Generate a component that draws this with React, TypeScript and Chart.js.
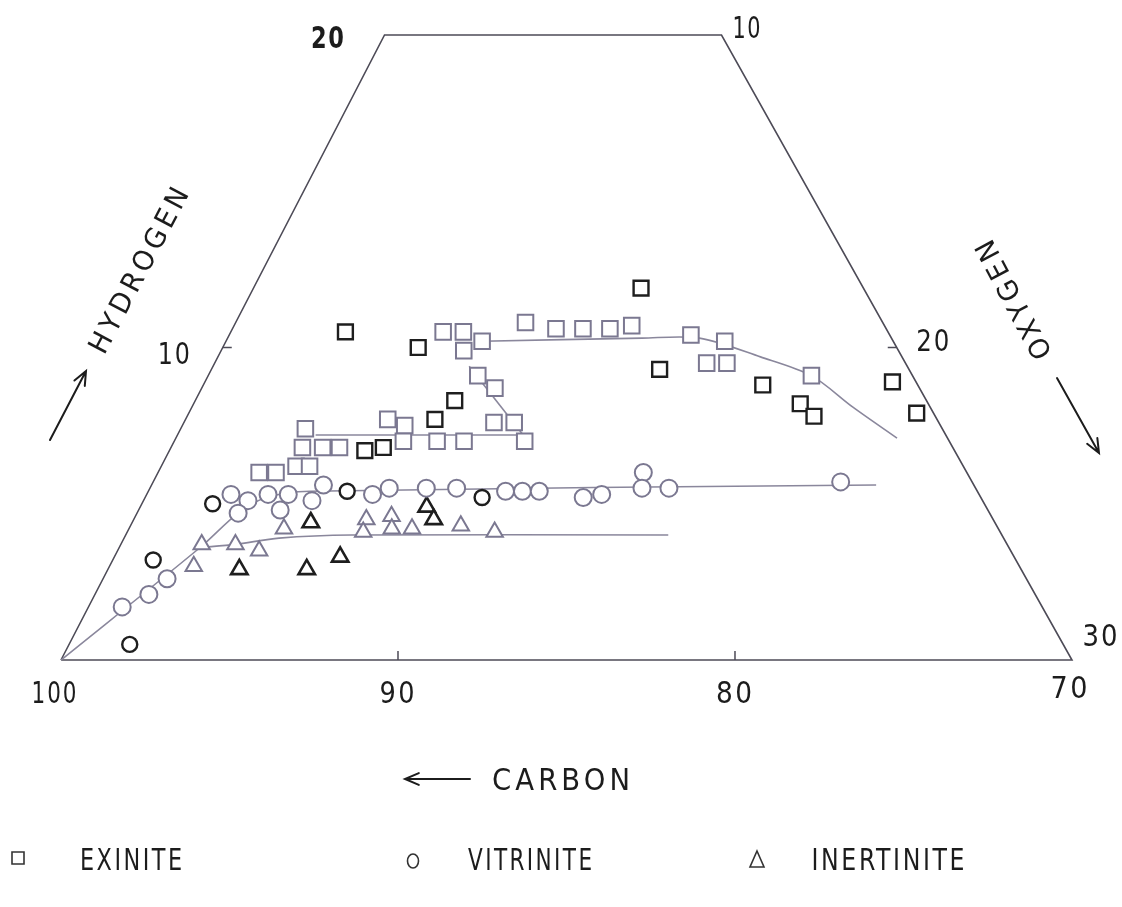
import React, { useEffect, useRef } from 'react';
import { Chart, registerables } from 'chart.js';

Chart.register(...registerables);

type Pair = [number, number]; // [carbon %, hydrogen %]

// Ternary (C–H–O) diagram drawn on a sheared Cartesian frame: plotted x = C + SHEAR * H
const SHEAR = 0.52;

const carbonTicks = [100, 90, 80, 70];
const hydrogenTicks = [10, 20];
const oxygenTicks = [10, 20, 30];

const frameOutline: Pair[] = [[100, 0], [80, 20], [70, 20], [70, 0], [100, 0]];

const exiniteTrend: Pair[] = [
  [88.9, 7.4], [89.3, 6.8], [88.7, 6.8], [88.2, 6.8], [86.3, 7.7], [85.9, 7.5], [86.2, 7.0],
  [85.2, 7.0], [84.4, 7.0], [91.0, 6.0], [90.5, 6.0], [89.8, 6.2], [89.4, 6.2], [83.2, 10.5],
  [82.6, 10.5], [82.9, 9.9], [82.2, 10.2], [82.9, 9.1], [82.6, 8.7], [83.2, 7.6], [82.6, 7.6],
  [82.6, 7.0], [80.6, 10.8], [79.8, 10.6], [79.0, 10.6], [78.2, 10.6], [77.5, 10.7], [75.9, 10.4],
  [75.0, 10.2], [75.9, 9.5], [75.3, 9.5], [73.0, 9.1],
];
const exiniteOutliers: Pair[] = [
  [86.1, 10.5], [84.2, 10.0], [84.0, 8.3], [84.9, 7.7], [87.5, 6.7], [86.9, 6.8], [76.6, 11.9],
  [77.4, 9.3], [74.6, 8.8], [73.8, 8.2], [73.6, 7.8], [70.7, 8.9], [70.5, 7.9],
];

const vitriniteTrend: Pair[] = [
  [97.3, 1.7], [96.3, 2.1], [95.5, 2.6], [92.2, 5.3], [91.8, 5.1], [92.3, 4.7], [91.1, 5.3],
  [90.5, 5.3], [91.0, 4.8], [89.9, 5.1], [89.3, 5.6], [88.0, 5.3], [87.4, 5.5], [86.3, 5.5],
  [85.4, 5.5], [84.0, 5.4], [83.5, 5.4], [83.0, 5.4], [81.8, 5.2], [81.2, 5.3], [79.6, 6.0],
  [79.9, 5.5], [79.1, 5.5], [73.9, 5.7],
];
const vitriniteOutliers: Pair[] = [[97.7, 0.5], [95.6, 3.2], [92.9, 5.0], [88.7, 5.4], [84.8, 5.2]];

const inertiniteTrend: Pair[] = [
  [94.5, 3.0], [93.9, 3.7], [92.9, 3.7], [92.3, 3.5], [91.2, 4.2], [88.6, 4.5], [88.9, 4.1],
  [87.8, 4.6], [88.0, 4.2], [87.4, 4.2], [85.9, 4.3], [85.0, 4.1],
];
const inertiniteOutliers: Pair[] = [[93.2, 2.9], [90.3, 4.4], [91.2, 2.9], [90.0, 3.3], [86.6, 4.9], [86.6, 4.5]];

const exiniteUpperCurve: Pair[] = [[82.2, 10.2], [77.4, 10.3], [75.7, 10.3], [74.2, 9.7], [73.0, 9.1], [72.3, 8.1], [71.5, 7.1]];
const exiniteLowerLine: Pair[] = [[88.7, 7.2], [82.6, 7.2]];
const exiniteCrossLine: Pair[] = [[83.0, 9.4], [82.5, 7.0]];
const vitriniteCurve: Pair[] = [[100, 0], [94.0, 3.6], [92.3, 4.7], [91.2, 5.2], [89.8, 5.4], [72.9, 5.6]];
const inertiniteCurve: Pair[] = [[94.0, 3.6], [92.9, 3.7], [91.5, 3.9], [89.3, 4.0], [79.9, 4.0]];

const legendLabels = ['EXINITE', 'VITRINITE', 'INERTINITE'];

// ---- styling / layout ----
const W = 1122;
const H = 907;
const X_MIN = 68.516;
const X_MAX = 101.81;
const Y_MIN = -7.904;
const Y_MAX = 21.12;
const FONT = "'Liberation Sans Narrow', 'DejaVu Sans Condensed', 'Liberation Sans', 'DejaVu Sans', sans-serif";
const MARK = '#7b7891';
const LINE = '#8a879c';
const DARK = '#1e1e1e';
const FRAME = '#4d4b57';
const TEXT = '#1c1c1c';

const toPts = (arr: Pair[]) => arr.map(([c, h]) => ({ x: c + SHEAR * h, y: h }));

function fitText(
  ctx: CanvasRenderingContext2D, text: string, cx: number, cy: number,
  size: number, width: number, angle = 0, spacing = 0, weight = '400',
) {
  ctx.save();
  ctx.translate(cx, cy);
  ctx.rotate(angle);
  ctx.font = `${weight} ${size}px ${FONT}`;
  (ctx as any).letterSpacing = `${spacing}px`;
  const w = ctx.measureText(text).width - spacing;
  const s = width / w;
  ctx.scale(s, 1);
  ctx.fillStyle = TEXT;
  ctx.textAlign = 'center';
  ctx.textBaseline = 'alphabetic';
  ctx.fillText(text, spacing / 2, size * 0.36);
  ctx.restore();
}

function arrow(ctx: CanvasRenderingContext2D, x0: number, y0: number, x1: number, y1: number) {
  const a = Math.atan2(y1 - y0, x1 - x0);
  const L = 15;
  const sp = 0.4;
  ctx.save();
  ctx.strokeStyle = TEXT;
  ctx.lineWidth = 2;
  ctx.lineCap = 'round';
  ctx.beginPath();
  ctx.moveTo(x0, y0);
  ctx.lineTo(x1, y1);
  ctx.moveTo(x1 - L * Math.cos(a - sp), y1 - L * Math.sin(a - sp));
  ctx.lineTo(x1, y1);
  ctx.lineTo(x1 - L * Math.cos(a + sp), y1 - L * Math.sin(a + sp));
  ctx.stroke();
  ctx.restore();
}

const carbonLabelOffset: Record<number, [number, number, number]> = {
  100: [-7, 32, 45], 90: [-1, 32, 35], 80: [-1, 32, 36], 70: [-3, 27, 37],
};
const hydrogenLabelOffset: Record<number, [number, number, number]> = {
  10: [-49, 6, 32], 20: [-57, 2, 33],
};
const oxygenLabelOffset: Record<number, [number, number, number]> = {
  10: [25, -8, 28], 20: [36, -7, 33], 30: [28, -25, 35],
};

const overlay = {
  id: 'overlay',
  afterDraw(chart: any) {
    const ctx: CanvasRenderingContext2D = chart.ctx;
    const xs = chart.scales.x;
    const ys = chart.scales.y;
    const px = (c: number, h: number) => xs.getPixelForValue(c + SHEAR * h);
    const py = (h: number) => ys.getPixelForValue(h);

    // tick marks
    ctx.save();
    ctx.strokeStyle = FRAME;
    ctx.lineWidth = 1.5;
    ctx.beginPath();
    carbonTicks.slice(1, -1).forEach((c) => {
      ctx.moveTo(px(c, 0), py(0));
      ctx.lineTo(px(c, 0), py(0) - 9);
    });
    ctx.moveTo(px(90, 10), py(10));
    ctx.lineTo(px(90, 10) + 9, py(10));
    ctx.moveTo(px(70, 10), py(10));
    ctx.lineTo(px(70, 10) - 9, py(10));
    ctx.stroke();
    ctx.restore();

    // tick labels
    carbonTicks.forEach((c) => {
      const [dx, dy, w] = carbonLabelOffset[c];
      fitText(ctx, String(c), px(c, 0) + dx, py(0) + dy, 30, w, 0, 2.5);
    });
    hydrogenTicks.forEach((h) => {
      const [dx, dy, w] = hydrogenLabelOffset[h];
      fitText(ctx, String(h), px(100 - h, h) + dx, py(h) + dy, 30, w, 0, 2, h === 20 ? '700' : '400');
    });
    oxygenTicks.forEach((o) => {
      const [dx, dy, w] = oxygenLabelOffset[o];
      const h = 30 - o;
      fitText(ctx, String(o), px(70, h) + dx, py(h) + dy, 30, w, 0, 2);
    });

    const ox = px(100, 0);
    const oy = py(0);

    // axis titles
    fitText(ctx, 'HYDROGEN', ox + 77, oy - 390, 28, 183, -62.2 * Math.PI / 180, 4);
    arrow(ctx, ox - 11, oy - 220, ox + 25, oy - 289);
    fitText(ctx, 'OXYGEN', ox + 952, oy - 360, 28, 131, -118 * Math.PI / 180, 4);
    arrow(ctx, ox + 996, oy - 282, ox + 1038, oy - 207);
    fitText(ctx, 'CARBON', ox + 500, oy + 119, 30, 138, 0, 4);
    arrow(ctx, ox + 409, oy + 119, ox + 344, oy + 119);

    // legend
    const ly = oy + 199;
    const markers = ['rect', 'circle', 'triangle'];
    const mx = [18, 413, 757];
    const tx = [131, 530, 888];
    const tw = [102, 124, 153];
    ctx.save();
    ctx.strokeStyle = '#333';
    ctx.lineWidth = 1.6;
    markers.forEach((m, i) => {
      ctx.beginPath();
      if (m === 'rect') ctx.rect(mx[i] - 6, ly - 7, 12, 12);
      else if (m === 'circle') ctx.ellipse(mx[i], ly + 2, 5.5, 7, 0, 0, Math.PI * 2);
      else {
        ctx.moveTo(mx[i], ly - 8);
        ctx.lineTo(mx[i] + 7, ly + 8);
        ctx.lineTo(mx[i] - 7, ly + 8);
        ctx.closePath();
      }
      ctx.stroke();
    });
    ctx.restore();
    legendLabels.forEach((t, i) => fitText(ctx, t, tx[i], ly, 30, tw[i], 0, 3));
  },
};

function lineDs(label: string, arr: Pair[], color: string, width: number, tension: number, order: number) {
  return {
    label,
    data: toPts(arr),
    showLine: true,
    borderColor: color,
    borderWidth: width,
    pointRadius: 0,
    tension,
    fill: false,
    order,
  };
}

function markDs(label: string, arr: Pair[], style: string, radius: number, color: string, bw: number) {
  return {
    label,
    data: toPts(arr),
    showLine: false,
    pointStyle: style,
    pointRadius: radius,
    pointBackgroundColor: '#ffffff',
    pointBorderColor: color,
    pointBorderWidth: bw,
    order: 1,
  };
}

export default function App() {
  const ref = useRef<HTMLCanvasElement | null>(null);

  useEffect(() => {
    if (!ref.current) return;
    document.body.style.margin = '0';
    const chart = new Chart(ref.current, {
      type: 'scatter',
      data: {
        datasets: [
          lineDs('frame', frameOutline, FRAME, 1.6, 0, 9),
          lineDs('exinite upper', exiniteUpperCurve, LINE, 1.6, 0.3, 5),
          lineDs('exinite lower', exiniteLowerLine, LINE, 1.6, 0, 5),
          lineDs('exinite cross', exiniteCrossLine, LINE, 1.6, 0, 5),
          lineDs('vitrinite curve', vitriniteCurve, LINE, 1.6, 0.3, 5),
          lineDs('inertinite curve', inertiniteCurve, LINE, 1.6, 0.3, 5),
          markDs('EXINITE', exiniteTrend, 'rect', 11, MARK, 2),
          markDs('EXINITE (dark)', exiniteOutliers, 'rect', 10.5, DARK, 2.4),
          markDs('VITRINITE', vitriniteTrend, 'circle', 8.5, MARK, 2),
          markDs('VITRINITE (dark)', vitriniteOutliers, 'circle', 7.5, DARK, 2.4),
          markDs('INERTINITE', inertiniteTrend, 'triangle', 9.5, MARK, 2),
          markDs('INERTINITE (dark)', inertiniteOutliers, 'triangle', 9.5, DARK, 2.6),
        ] as any,
      },
      options: {
        animation: false,
        responsive: false,
        events: [],
        layout: { padding: 0, autoPadding: false },
        plugins: { legend: { display: false }, tooltip: { enabled: false } },
        scales: {
          x: { type: 'linear', display: false, reverse: true, min: X_MIN, max: X_MAX },
          y: { type: 'linear', display: false, min: Y_MIN, max: Y_MAX },
        },
      },
      plugins: [overlay],
    });
    return () => chart.destroy();
  }, []);

  return (
    <div style={{ position: 'absolute', left: 0, top: 0, width: W, height: H, background: '#fff' }}>
      <canvas ref={ref} width={W} height={H} style={{ display: 'block', width: W, height: H }} />
    </div>
  );
}
